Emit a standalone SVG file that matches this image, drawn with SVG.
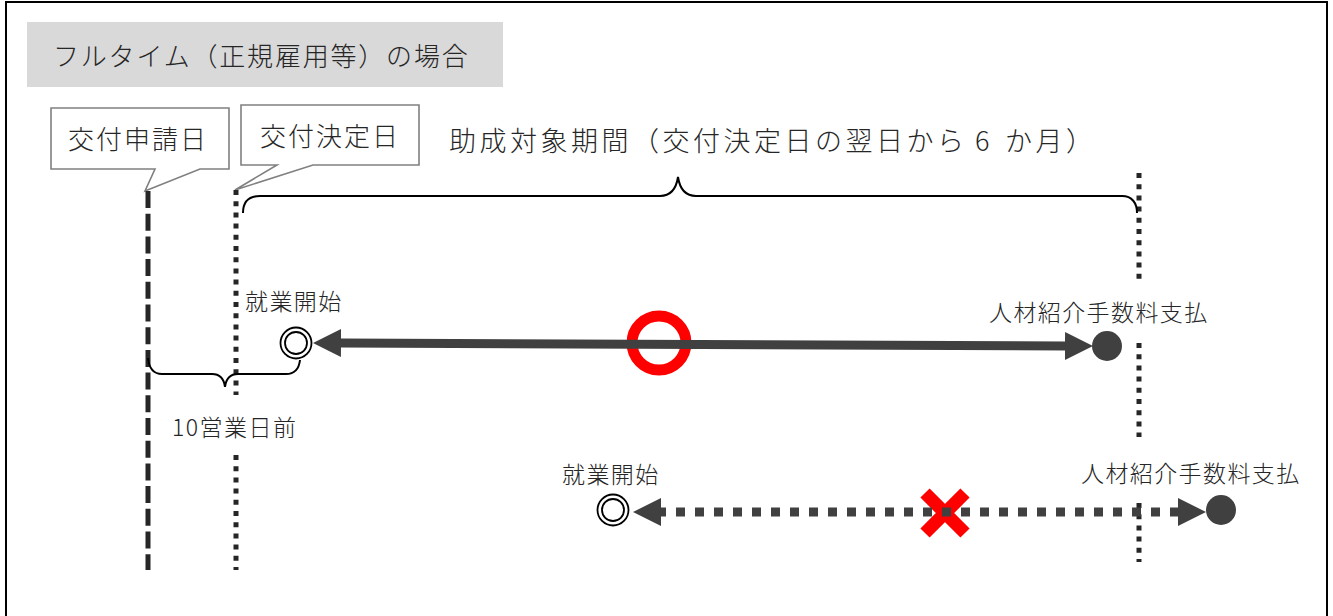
<svg xmlns="http://www.w3.org/2000/svg" width="1333" height="616" viewBox="0 0 1333 616">
<style>
  text { font-family: "Noto Sans CJK JP", "Noto Sans", sans-serif; font-weight: 300; fill: #262626; }
  .title { font-size: 26px; letter-spacing: 1.8px; }
  .callout-text { font-size: 26px; letter-spacing: 2px; }
  .period { font-size: 27px; letter-spacing: 3.5px; }
  .label { font-size: 23px; letter-spacing: 1.4px; }
  .callout { fill: #ffffff; stroke: #808080; stroke-width: 1.6; }
  .dash { stroke: #262626; stroke-width: 5; fill: none; stroke-dasharray: 17 5.7; }
  .dot { stroke: #262626; stroke-width: 5; fill: none; stroke-dasharray: 5 6.2; }
  .brace { stroke: #000000; stroke-width: 2; fill: none; }
  .solid-arrow { stroke: #404040; stroke-width: 9; fill: none; }
  .dotted-arrow { stroke: #404040; stroke-width: 9; fill: none; stroke-dasharray: 9 10; stroke-dashoffset: 4; }
  .start { fill: #ffffff; stroke: #000000; stroke-width: 1.8; }
  .end { fill: #404040; }
</style>
<defs>
  <marker id="head" markerUnits="userSpaceOnUse" viewBox="0 -14 28 28" refX="0" refY="0" markerWidth="28" markerHeight="28" orient="auto-start-reverse">
    <path d="M0,-14 L28,0 L0,14 Z" fill="#404040"/>
  </marker>
</defs>

<rect x="6" y="2" width="1321" height="640" fill="none" stroke="#000000" stroke-width="2"/>

<g id="title">
  <rect x="27" y="22" width="476" height="65" fill="#d9d9d9"/>
  <text class="title" x="53" y="66">フルタイム（正規雇用等）の場合</text>
</g>

<g id="callout-application">
  <path class="callout" d="M51,108 H229 V169 H200 L145,191 L155,169 H51 Z"/>
  <text class="callout-text" x="68" y="149">交付申請日</text>
</g>

<g id="callout-decision">
  <path class="callout" d="M241,105 H419 V165 H313 L235,190 L277,165 H241 Z"/>
  <text class="callout-text" x="260" y="146">交付決定日</text>
</g>

<g id="period-label">
  <text class="period" x="449" y="151">助成対象期間（交付決定日の翌日から<tspan x="975">6</tspan><tspan x="1005">か月）</tspan></text>
</g>

<g id="timelines">
  <line class="dash" x1="148" y1="191" x2="148" y2="570"/>
  <line class="dot" x1="236" y1="190" x2="236" y2="395"/>
  <line class="dot" x1="236" y1="455" x2="236" y2="570"/>
  <line class="dot" x1="1139" y1="173" x2="1139" y2="280"/>
  <line class="dot" x1="1139" y1="343" x2="1139" y2="437"/>
  <line class="dot" x1="1139" y1="503" x2="1139" y2="562"/>
</g>

<g id="braces">
  <path class="brace" d="M243,213 C243,202 248,196 260,196 H660 C670,196 676,190 678,177 C680,190 686,196 696,196 H1122 C1132,196 1137,203 1137,213"/>
  <path class="brace" d="M148,358 C149,368 153,374 162,374 H212 C220,374 224,379 225,387 C226,379 230,374 238,374 H286 C294,374 299,369 300,360"/>
</g>

<g id="label-ten-days">
  <text class="label" x="172" y="436" style="letter-spacing:1.5px">10営業日前</text>
</g>

<g id="ok-mark">
  <circle cx="659" cy="343" r="27" fill="none" stroke="#ff0000" stroke-width="11"/>
</g>

<g id="ng-mark">
  <path d="M925,493 L965,533 M965,493 L925,533" stroke="#ff0000" stroke-width="13" fill="none"/>
</g>

<g id="connectors">
  <line class="solid-arrow" x1="341" y1="343" x2="1065" y2="346" marker-start="url(#head)" marker-end="url(#head)"/>
  <line class="dotted-arrow" x1="661" y1="512" x2="1178" y2="512" marker-start="url(#head)" marker-end="url(#head)"/>
</g>

<g id="start-ok">
  <circle class="start" cx="296" cy="343" r="15.5"/>
  <circle class="start" cx="296" cy="343" r="11"/>
  <text class="label" x="245" y="310">就業開始</text>
</g>

<g id="payment-ok">
  <circle class="end" cx="1107" cy="346" r="15"/>
  <text class="label" x="989" y="321">人材紹介手数料支払</text>
</g>

<g id="start-ng">
  <circle class="start" cx="613" cy="510" r="15.5"/>
  <circle class="start" cx="613" cy="510" r="11"/>
  <text class="label" x="562" y="483">就業開始</text>
</g>

<g id="payment-ng">
  <circle class="end" cx="1221" cy="510" r="15"/>
  <text class="label" x="1081" y="482">人材紹介手数料支払</text>
</g>
</svg>
